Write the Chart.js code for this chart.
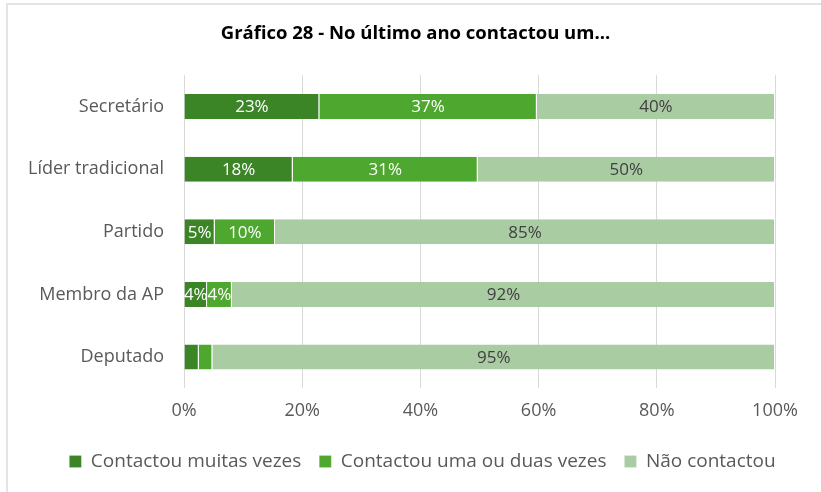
<!DOCTYPE html>
<html>
<head>
<meta charset="utf-8">
<script src="https://cdn.jsdelivr.net/npm/chart.js@4"></script>
<style>
  html, body { margin: 0; padding: 0; background: #fff; }
  #wrap { position: absolute; left: 0; top: 0; width: 821px; height: 492px; }
  #frame { position: absolute; left: 6px; top: 3px; width: 815px; height: 489px;
           border-left: 2px solid #e3e3e3; border-top: 2px solid #e3e3e3; box-sizing: border-box; pointer-events: none; }
  canvas { position: absolute; left: 0; top: 0; }
</style>
</head>
<body>
<div id="wrap"><canvas id="c" width="821" height="492"></canvas><div id="frame"></div></div>
<script>
const categories = ["Secretário", "Líder tradicional", "Partido", "Membro da AP", "Deputado"];
const seriesNames = ["Contactou muitas vezes", "Contactou uma ou duas vezes", "Não contactou"];
const muitasVezes = [22.9, 18.4, 5.2, 3.9, 2.5];
const umaOuDuas   = [36.8, 31.3, 10.2, 4.2, 2.3];
const naoContactou = [40.3, 50.3, 84.6, 91.9, 95.2];
const xTicks = [0, 20, 40, 60, 80, 100];
const colors = ["#3b8527", "#4ea72e", "#aacca3"];
const labelColors = ["#ffffff", "#ffffff", "#404040"];
const titleText = "Gráfico 28 - No último ano contactou um...";

const FONT = "'Open Sans', 'Liberation Sans', sans-serif";

const labelPlugin = {
  id: 'segLabels',
  afterDatasetsDraw(chart) {
    const ctx = chart.ctx;
    ctx.save();
    ctx.font = "17px " + FONT;
    ctx.textAlign = 'center';
    ctx.textBaseline = 'middle';
    chart.data.datasets.forEach((ds, di) => {
      const meta = chart.getDatasetMeta(di);
      meta.data.forEach((bar, i) => {
        const v = ds.data[i];
        if (v < 3) return;
        const cx = (bar.x + bar.base) / 2;
        ctx.fillStyle = labelColors[di];
        ctx.fillText(Math.round(v) + '%', cx, bar.y + 1);
      });
    });
    ctx.restore();
  }
};

// shift title and legend horizontally to match the reference placement
const shiftPlugin = {
  id: 'shiftBoxes',
  afterLayout(chart) {
    const lg = chart.legend, tb = chart.titleBlock;
    if (lg) { lg.left += 35; lg.right += 35; }
    if (tb) { tb.left += 28; tb.right += 28; }
  }
};

const datasets = [muitasVezes, umaOuDuas, naoContactou].map((d, i) => ({
  label: seriesNames[i],
  data: d,
  backgroundColor: colors[i],
  borderColor: 'rgba(255,255,255,0.7)',
  borderWidth: {left: 0, right: 1, top: 0, bottom: 0},
  borderSkipped: false,
  categoryPercentage: 1.0,
  barPercentage: 0.4
}));

new Chart(document.getElementById('c'), {
  type: 'bar',
  data: { labels: categories, datasets },
  options: {
    indexAxis: 'y',
    responsive: false,
    animation: false,
    devicePixelRatio: 1,
    layout: { padding: { left: 0, right: 46, top: 0, bottom: 11 } },
    scales: {
      x: {
        stacked: true,
        min: 0, max: 100,
        afterBuildTicks(scale) { scale.ticks = xTicks.map(v => ({ value: v })); },
        ticks: { callback: v => v + '%', color: '#595959', font: { size: 18, family: FONT }, padding: 12, maxRotation: 0 },
        grid: { color: '#d9d9d9', lineWidth: 1, drawTicks: false },
        border: { display: false }
      },
      y: {
        stacked: true,
        afterFit(scale) { scale.width = 184; },
        ticks: { color: '#595959', font: { size: 18, family: FONT }, padding: 20 },
        grid: { display: false, drawTicks: false },
        border: { display: false }
      }
    },
    plugins: {
      title: {
        display: true, text: titleText, color: '#000000',
        font: { size: 18.5, weight: 'bold', family: FONT },
        padding: { top: 23, bottom: 30 }
      },
      legend: {
        position: 'bottom',
        labels: { color: '#595959', font: { size: 19, family: FONT }, boxWidth: 12, boxHeight: 12, padding: 18 }
      },
      tooltip: { enabled: false }
    }
  },
  plugins: [labelPlugin, shiftPlugin]
});
</script>
</body>
</html>
